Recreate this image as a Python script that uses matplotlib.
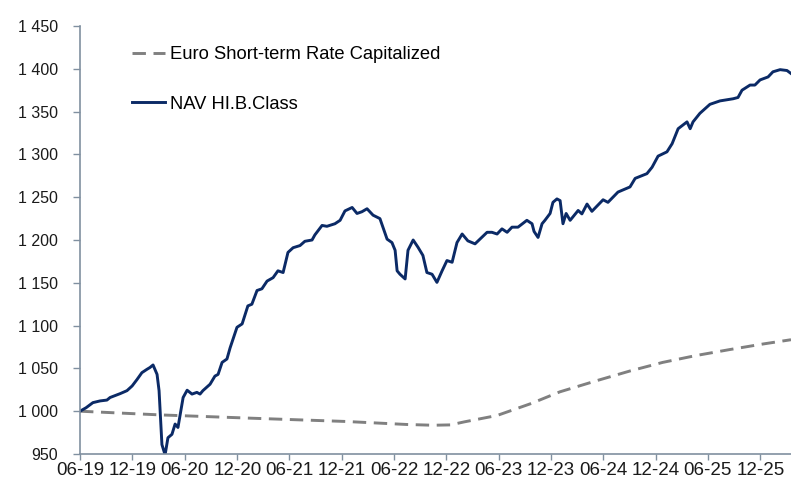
import matplotlib
matplotlib.use("Agg")
import matplotlib.pyplot as plt
import matplotlib.dates as mdates
import matplotlib.ticker as mticker
import pandas as pd

plt.rcParams["font.family"] = ["Liberation Sans", "DejaVu Sans"]

# NAV of the HI.B class
nav_dates = [
    "2019-06-01", "2019-06-22", "2019-07-16", "2019-08-10", "2019-09-03", "2019-09-14",
    "2019-10-19", "2019-11-12", "2019-11-30", "2019-12-17", "2020-01-03", "2020-01-21",
    "2020-01-31", "2020-02-11", "2020-02-25", "2020-03-03", "2020-03-13", "2020-03-24",
    "2020-04-03", "2020-04-17", "2020-04-28", "2020-05-08", "2020-05-26", "2020-06-09",
    "2020-06-26", "2020-07-13", "2020-07-24", "2020-08-03", "2020-08-28", "2020-09-14",
    "2020-09-25", "2020-10-09", "2020-10-26", "2020-11-06", "2020-11-30", "2020-12-18",
    "2021-01-07", "2021-01-21", "2021-02-08", "2021-02-25", "2021-03-15", "2021-04-05",
    "2021-04-22", "2021-05-10", "2021-05-27", "2021-06-14", "2021-07-08", "2021-07-25",
    "2021-08-19", "2021-08-29", "2021-09-23", "2021-10-10", "2021-11-07", "2021-11-25",
    "2021-12-12", "2022-01-06", "2022-01-23", "2022-02-09", "2022-02-27", "2022-03-20",
    "2022-04-13", "2022-05-08", "2022-05-25", "2022-06-05", "2022-06-12", "2022-06-22",
    "2022-07-10", "2022-07-20", "2022-08-07", "2022-08-24", "2022-09-10", "2022-09-24",
    "2022-10-12", "2022-10-29", "2022-11-16", "2022-12-03", "2022-12-21", "2023-01-07",
    "2023-01-25", "2023-02-14", "2023-03-11", "2023-03-28", "2023-04-22", "2023-05-09",
    "2023-05-27", "2023-06-13", "2023-07-01", "2023-07-18", "2023-08-08", "2023-09-08",
    "2023-09-26", "2023-10-03", "2023-10-17", "2023-10-31", "2023-11-10", "2023-11-28",
    "2023-12-08", "2023-12-22", "2024-01-02", "2024-01-12", "2024-01-23", "2024-02-06",
    "2024-03-05", "2024-03-18", "2024-04-05", "2024-04-22", "2024-05-31", "2024-06-17",
    "2024-07-22", "2024-09-02", "2024-09-20", "2024-10-31", "2024-11-18", "2024-12-09",
    "2025-01-09", "2025-01-27", "2025-02-17", "2025-03-20", "2025-03-31", "2025-04-10",
    "2025-05-04", "2025-06-08", "2025-07-13", "2025-08-28", "2025-09-14", "2025-09-28",
    "2025-10-26", "2025-11-12", "2025-11-30", "2025-12-28", "2026-01-14", "2026-02-08",
    "2026-03-04", "2026-03-18",
]
nav_values = [
    1000, 1004, 1010, 1012, 1013, 1016,
    1020.5, 1024, 1029.5, 1037, 1045, 1049,
    1051, 1054, 1043, 1024, 961, 949,
    969, 973, 985, 981, 1016, 1024.5,
    1020, 1022, 1020, 1024, 1031.5, 1041,
    1043, 1057, 1061, 1074, 1098, 1102,
    1123, 1125, 1141, 1143, 1152, 1156,
    1164, 1162, 1185.5, 1191, 1193.5, 1198.5,
    1200, 1206, 1217, 1216, 1219, 1223,
    1234, 1238, 1231, 1233, 1236.5, 1229,
    1225, 1201, 1197, 1188, 1164, 1160,
    1154.5, 1188, 1200, 1191.5, 1182, 1162,
    1160, 1150.5, 1164, 1176, 1174, 1197,
    1207, 1199, 1195.5, 1201, 1209, 1209,
    1207, 1213, 1209, 1215, 1215, 1223,
    1219, 1210, 1203, 1219, 1223, 1231,
    1244, 1248, 1246, 1219, 1231, 1223,
    1234.5, 1230.5, 1242, 1233.5, 1247, 1244,
    1256, 1262, 1272, 1277.5, 1285, 1298,
    1303, 1312.5, 1330, 1338, 1330, 1338,
    1348, 1358.5, 1362.5, 1365, 1366.5, 1375,
    1381, 1381, 1387, 1390.5, 1396.5, 1399,
    1398, 1394.5,
]

# Euro short-term rate, capitalized from 1000
estr_dates = [
    "2019-06-01", "2020-03-05", "2021-01-04", "2021-12-15", "2022-07-15", "2022-10-15",
    "2022-12-15", "2023-02-01", "2023-05-27", "2023-09-23", "2024-01-01", "2024-05-07",
    "2024-09-02", "2024-12-25", "2025-04-20", "2025-08-16", "2025-12-10", "2026-03-18",
]
estr_values = [
    1000, 995.7, 992, 988, 984.5, 983.6,
    984, 987.5, 995, 1009, 1022.6, 1035.5,
    1047, 1057, 1065, 1072, 1078.5, 1083.5,
]

y_ticks = [950, 1000, 1050, 1100, 1150, 1200, 1250, 1300, 1350, 1400, 1450]

axis_color = "#8090a0"

fig = plt.figure(figsize=(7.91, 4.84), dpi=100)
ax = fig.add_axes([80 / 791, 1 - 454 / 484, 711 / 791, 428 / 484])

ax.plot(pd.to_datetime(estr_dates), estr_values, color="#808080", linewidth=2.1,
        dashes=(4.6, 2.6), label="Euro Short-term Rate Capitalized")
ax.plot(pd.to_datetime(nav_dates), nav_values, color="#0b2a66", linewidth=2.1,
        label="NAV HI.B.Class")

# Axis limits
ax.set_xlim(pd.Timestamp("2019-06-01"), pd.Timestamp("2026-03-18"))
ax.set_ylim(950, 1450)

# Ticks
ax.set_yticks(y_ticks)
ax.yaxis.set_major_formatter(mticker.FuncFormatter(lambda v, p: f"{int(v):,}".replace(",", " ")))
ax.xaxis.set_major_locator(mdates.MonthLocator(bymonth=[6, 12]))
ax.xaxis.set_major_formatter(mdates.DateFormatter("%m-%y"))
ax.tick_params(axis="y", direction="out", length=5, width=1, color=axis_color,
               labelsize=11.5, labelcolor="#1a1a1a", pad=11)
ax.tick_params(axis="x", direction="out", length=4, width=1, color=axis_color,
               labelsize=13.5, labelcolor="#1a1a1a", pad=2)

# Spines
for side in ["top", "right"]:
    ax.spines[side].set_visible(False)
for side in ["left", "bottom"]:
    ax.spines[side].set_color(axis_color)
    ax.spines[side].set_linewidth(1.2)

# Legend
ax.legend(loc="upper left", bbox_to_anchor=(132 / 791, 1 - 46 / 484),
          bbox_transform=fig.transFigure, frameon=False, fontsize=13.2,
          handlelength=1.8, handletextpad=0.27, labelspacing=1.78,
          borderpad=0, borderaxespad=0)

fig.savefig("out.png", dpi=100)
